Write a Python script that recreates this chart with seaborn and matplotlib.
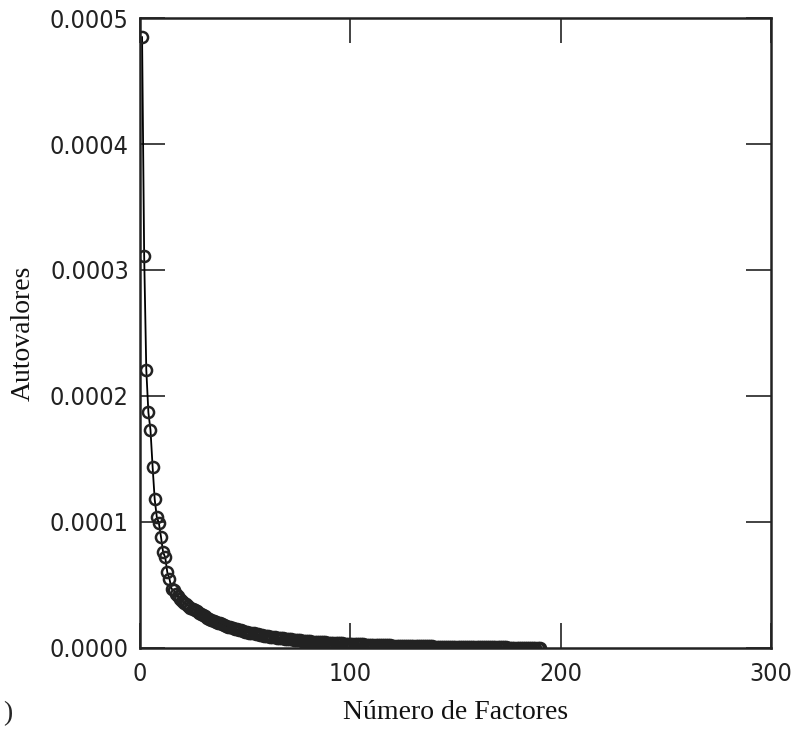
import numpy as np
import pandas as pd
import matplotlib
matplotlib.use("Agg")
import matplotlib.pyplot as plt
import seaborn as sns

# eigenvalues (x 1e-5), factors 1..190
head = [48.5, 31.1, 22.1, 18.7, 17.3, 14.4, 11.8, 10.4, 9.9, 8.8,
        7.6, 7.2, 6.0, 5.5, 4.7, 4.6, 4.3, 4.1, 3.9, 3.7,
        3.6, 3.5, 3.35, 3.2, 3.1, 3.0, 2.9, 2.8, 2.7, 2.6]
mid = [2.5, 2.4, 2.3, 2.25, 2.15, 2.1, 2.0, 1.95, 1.88, 1.8,
       1.75, 1.7, 1.64, 1.58, 1.53, 1.48, 1.43, 1.39, 1.35, 1.3,
       1.26, 1.22, 1.18, 1.15, 1.11, 1.08, 1.05, 1.02, 0.99, 0.96,
       0.93, 0.9, 0.88, 0.85, 0.83, 0.8, 0.78, 0.76, 0.74, 0.72,
       0.70, 0.68, 0.66, 0.64, 0.62, 0.61, 0.59, 0.57, 0.56, 0.54,
       0.53, 0.51, 0.50, 0.49, 0.47, 0.46, 0.45, 0.44, 0.43, 0.42,
       0.41, 0.40, 0.39, 0.38, 0.37, 0.36, 0.35, 0.34, 0.33, 0.32]
tail = [0.315, 0.31, 0.30, 0.29, 0.285, 0.28, 0.27, 0.265, 0.26, 0.25,
        0.245, 0.24, 0.235, 0.23, 0.22, 0.215, 0.21, 0.205, 0.20, 0.195,
        0.19, 0.185, 0.18, 0.176, 0.172, 0.168, 0.164, 0.16, 0.156, 0.152,
        0.148, 0.144, 0.14, 0.136, 0.132, 0.128, 0.125, 0.122, 0.119, 0.116,
        0.113, 0.11, 0.107, 0.104, 0.101, 0.098, 0.095, 0.092, 0.09, 0.088,
        0.085, 0.083, 0.08, 0.078, 0.076, 0.074, 0.072, 0.07, 0.068, 0.066,
        0.064, 0.062, 0.06, 0.058, 0.056, 0.054, 0.052, 0.05, 0.048, 0.046,
        0.044, 0.042, 0.04, 0.038, 0.036, 0.034, 0.032, 0.03, 0.028, 0.026,
        0.024, 0.022, 0.02, 0.018, 0.016, 0.014, 0.012, 0.01, 0.008, 0.006]

eig = np.array(head + mid + tail) * 1e-5
factors = np.arange(1, len(eig) + 1)
xticks = [0, 100, 200, 300]
yticks = [0.0, 0.0001, 0.0002, 0.0003, 0.0004, 0.0005]

df = pd.DataFrame({"factor": factors, "eig": eig})

sns.set_style("ticks")
fig = plt.figure(figsize=(7.98, 7.35), dpi=100)
ax = fig.add_axes([0.1754, 0.1184, 0.7908, 0.8571])

sns.lineplot(data=df, x="factor", y="eig", ax=ax, color="black", lw=1.3,
             marker="o", markersize=8, markerfacecolor="none",
             markeredgecolor="#222222", markeredgewidth=1.8)

ax.set_xlim(0, 300)
ax.set_ylim(0, 0.0005)
ax.set_xticks(xticks)
ax.set_yticks(yticks)
ax.set_yticklabels([f"{v:.4f}" for v in yticks])

for lab in ax.get_xticklabels() + ax.get_yticklabels():
    lab.set_family("DejaVu Sans")
    lab.set_stretch("condensed")
    lab.set_fontsize(18)
    lab.set_color("#222222")

ax.tick_params(direction="in", length=18, width=1.2, top=True, right=True,
               pad=8, color="#222222")
ax.tick_params(axis="x", pad=10)
for sp in ax.spines.values():
    sp.set_linewidth(1.8)
    sp.set_color("#222222")

ax.set_xlabel("Número de Factores", family="Liberation Serif", fontsize=20,
              labelpad=10, color="#111111")
ax.set_ylabel("Autovalores", family="Liberation Serif", fontsize=20,
              labelpad=10, color="#111111")

fig.text(0.004, 0.02, ")", family="Liberation Serif", fontsize=20)

fig.savefig("out.png", dpi=100)
